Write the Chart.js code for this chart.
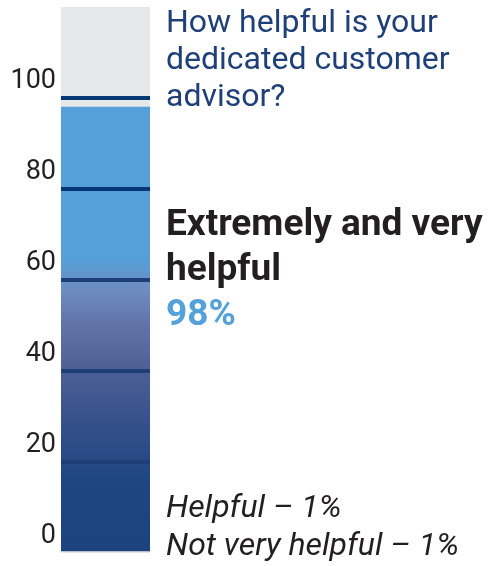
<!DOCTYPE html>
<html>
<head>
<meta charset="utf-8">
<script src="https://cdn.jsdelivr.net/npm/chart.js@4.4.1/dist/chart.umd.min.js"></script>
<style>
  html, body { margin: 0; padding: 0; background: #fff; }
  #wrap { position: relative; width: 503px; height: 566px; }
  #chart { position: absolute; left: 0; top: 0; }
  .txt { position: absolute; left: 166px; font-family: Roboto, sans-serif; white-space: nowrap; }
  #question { top: 3px; font-size: 32px; line-height: 37px; color: #1e3f78; }
  #headline { top: 200px; font-size: 37px; line-height: 45px; font-weight: bold; color: #231f20; }
  #headline .pct { color: #55a1da; }
  #others { top: 487px; font-size: 32px; line-height: 38px; font-style: italic; color: #231f20; }
</style>
</head>
<body>
<div id="wrap">
  <canvas id="chart" width="503" height="566"></canvas>
  <div class="txt" id="question">How helpful is your<br>dedicated customer<br>advisor?</div>
  <div class="txt" id="headline">Extremely and very<br>helpful<br><span class="pct">98%</span></div>
  <div class="txt" id="others">Helpful – 1%<br>Not very helpful – 1%</div>
</div>
<script>
const answers = ['Extremely and very helpful', 'Helpful', 'Not very helpful'];
const shares = [98, 1, 1];
const yTicks = [0, 20, 40, 60, 80, 100];
const yMax = 120;

// gradient for the main bar, built against the y scale once it is laid out
const barGradient = (context) => {
    const chart = context.chart;
    const y = chart.scales.y;
    const bottom = y ? y.getPixelForValue(0) : NaN;
    const top = y ? y.getPixelForValue(shares[0]) : NaN;
    if (!chart.chartArea || !isFinite(bottom) || !isFinite(top)) return '#55a1da';
    const g = chart.ctx.createLinearGradient(0, bottom, 0, top);
    const stop = (v, c) => g.addColorStop(v / shares[0], c);
    stop(0, '#1d437f');
    stop(16, '#1f4680');
    stop(28, '#34508a');
    stop(40, '#4d5f95');
    stop(50, '#6273a9');
    stop(58, '#6e8cc1');
    stop(62, '#5f98cf');
    stop(65, '#55a0d9');
    stop(98, '#55a0d9');
    return g;
};

const greyTrack = {
    id: 'greyTrack',
    beforeDatasetsDraw(chart) {
        const a = chart.chartArea;
        chart.ctx.save();
        chart.ctx.fillStyle = '#e6e7e9';
        chart.ctx.fillRect(a.left, a.top, a.right - a.left, a.bottom - a.top);
        chart.ctx.restore();
    }
};

new Chart(document.getElementById('chart'), {
    type: 'bar',
    data: {
        labels: [''],
        datasets: answers.map((name, i) => ({
            label: name,
            data: [shares[i]],
            backgroundColor: i === 0 ? barGradient : '#e6e7e9',
            borderWidth: 0,
            barPercentage: 1,
            categoryPercentage: 1,
            stack: 'all'
        }))
    },
    options: {
        responsive: false,
        animation: false,
        layout: { padding: { left: 0, right: 353, top: 7, bottom: 13 } },
        plugins: { legend: { display: false }, tooltip: { enabled: false } },
        scales: {
            x: { display: false, stacked: true },
            y: {
                stacked: true,
                min: 0,
                max: yMax,
                border: { display: false },
                afterFit: (scale) => {
                    scale.width = 61;
                    scale.paddingTop = 0;
                    scale.paddingBottom = 0;
                },
                afterBuildTicks: (scale) => { scale.ticks = yTicks.map(v => ({ value: v })); },
                grid: {
                    z: 1,
                    drawTicks: false,
                    lineWidth: 4,
                    color: (c) => {
                        const v = c.tick ? c.tick.value : 0;
                        if (v <= 0 || v > 100) return 'rgba(0,0,0,0)';
                        return v >= 80 ? '#023874' : '#1e3e78';
                    }
                },
                ticks: {
                    padding: 5,
                    labelOffset: -17,
                    color: '#231f20',
                    font: { family: 'Roboto, sans-serif', size: 27 }
                }
            }
        }
    },
    plugins: [greyTrack]
});
</script>
</body>
</html>
